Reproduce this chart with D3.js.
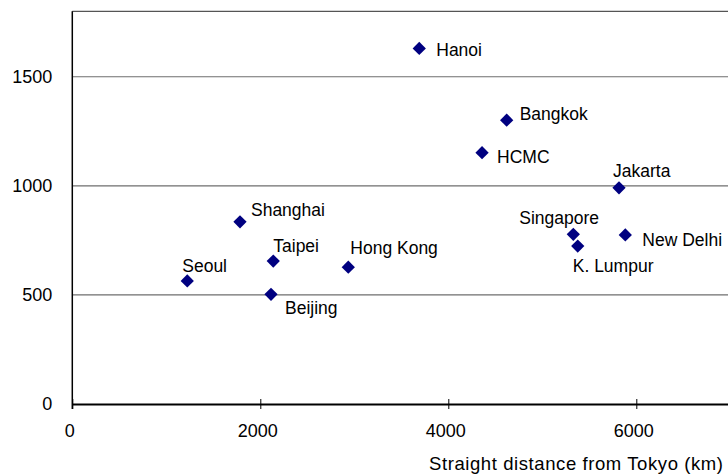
<!DOCTYPE html>
<html>
<head>
<meta charset="utf-8">
<script src="https://cdn.jsdelivr.net/npm/d3@7"></script>
<style>
  html, body { margin: 0; padding: 0; background: #fff; overflow: hidden; }
  svg { display: block; font-family: "Liberation Sans", Arial, sans-serif; }
</style>
</head>
<body>
<svg id="chart" width="728" height="475"></svg>
<script>
// ---- data ----
const cities    = ["Seoul", "Beijing", "Taipei", "Shanghai", "Hong Kong", "Hanoi", "HCMC", "Bangkok", "K. Lumpur", "Singapore", "Jakarta", "New Delhi"];
const distances = [1223, 2114, 2138, 1784, 2936, 3691, 4359, 4621, 5377, 5330, 5816, 5883];
const values    = [564, 503, 655, 835, 627, 1630, 1152, 1301, 724, 778, 991, 775];
const xTicks = [0, 2000, 4000, 6000];
const yTicks = [0, 500, 1000, 1500];
const xTitle = "Straight distance from Tokyo (km)";

// label placement (layout, px offsets from the marker centre)
const labelDx = [-5, 14, 0, 11, 2, 17, 15, 13, -5, -54, -6, 17];
const labelDy = [-9, 20, -9, -6, -13, 8, 10, 0, 26, -10, -11, 11];

const svg = d3.select("#chart");
const x = d3.scaleLinear().domain([0, 8000]).range([72.3, 824.3]);
const y = d3.scaleLinear().domain([0, 1800]).range([404, 11.3]);

// gridlines
svg.append("g").selectAll("line").data(yTicks.filter(d => d > 0)).join("line")
  .attr("x1", x(0)).attr("x2", x(8000))
  .attr("y1", d => y(d)).attr("y2", d => y(d))
  .attr("stroke", "#6e6e6e").attr("stroke-width", 1.2);
// top border
svg.append("line").attr("x1", x(0)).attr("x2", x(8000))
  .attr("y1", y(1800)).attr("y2", y(1800))
  .attr("stroke", "#555").attr("stroke-width", 1.2);

// y axis
const yAxis = svg.append("g").attr("transform", `translate(${x(0)},0)`)
  .call(d3.axisLeft(y).tickValues(yTicks).tickSize(0).tickPadding(20).tickFormat(d3.format("d")));
yAxis.select(".domain").attr("stroke", "#000").attr("stroke-width", 1.5)
  .attr("d", `M0,${y(1800)}V${y(0) + 5}`);
yAxis.selectAll("text").attr("font-size", 18).attr("fill", "#000")
  .attr("font-family", "'Liberation Sans', Arial, sans-serif");

// x axis
const xAxis = svg.append("g").attr("transform", `translate(0,${y(0)})`)
  .call(d3.axisBottom(x).tickValues(xTicks).tickSize(5).tickSizeOuter(0).tickPadding(12).tickFormat(d3.format("d")));
xAxis.select(".domain").attr("stroke", "#000").attr("stroke-width", 2);
xAxis.selectAll(".tick line").attr("y1", -5).attr("y2", 5).attr("stroke", "#000").attr("stroke-width", 1);
xAxis.selectAll("text").attr("font-size", 18).attr("fill", "#000")
  .attr("dx", -3).attr("dy", "0.9em")
  .attr("font-family", "'Liberation Sans', Arial, sans-serif");

// x title
svg.append("text").attr("x", 429).attr("y", 470)
  .attr("font-size", 18.5).attr("fill", "#000")
  .attr("textLength", 294).attr("lengthAdjust", "spacing").text(xTitle);

// points
const sym = d3.symbol().type(d3.symbolSquare).size(88);
const pts = svg.append("g");
cities.forEach((c, i) => {
  pts.append("path").attr("d", sym())
    .attr("transform", `translate(${x(distances[i])},${y(values[i])}) rotate(45)`)
    .attr("fill", "#000080");
  svg.append("text")
    .attr("x", x(distances[i]) + labelDx[i])
    .attr("y", y(values[i]) + labelDy[i])
    .attr("font-size", 17.5).attr("fill", "#000").text(c);
});
</script>
</body>
</html>
